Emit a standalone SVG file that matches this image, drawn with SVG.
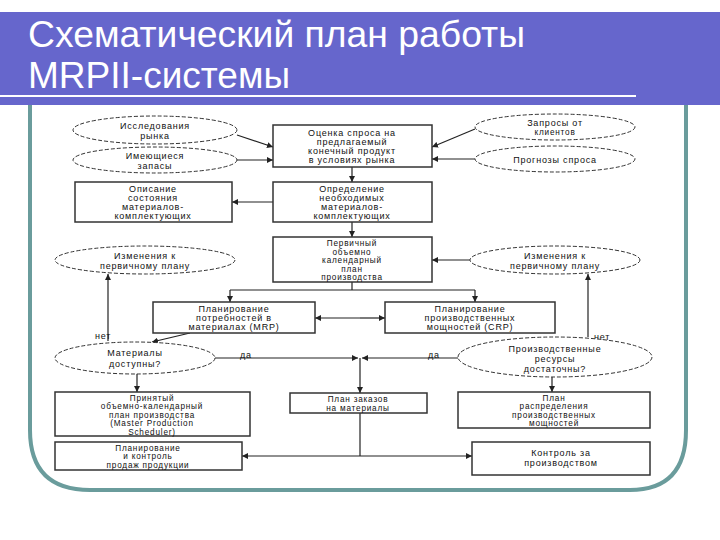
<svg xmlns="http://www.w3.org/2000/svg" width="720" height="540" viewBox="0 0 720 540">
<defs>
<marker id="a" viewBox="0 0 6 6" refX="6" refY="3" markerWidth="5" markerHeight="5" orient="auto"><path d="M0,0L6,3L0,6z" fill="#222"/></marker>
<style>
.b{fill:#fff;stroke:#333;stroke-width:1.5}
.e{fill:#fff;stroke:#333;stroke-width:1;stroke-dasharray:4 2}
.t{font-family:"Liberation Sans",Arial,sans-serif;font-size:9px;fill:#111;text-anchor:middle;letter-spacing:0.8px}
.s{font-size:8.2px}
.l{font-family:"Liberation Sans",Arial,sans-serif;font-size:9px;fill:#111;letter-spacing:0.8px}
.c{fill:none;stroke:#222;stroke-width:1.2}
.h{font-family:"Liberation Sans",Arial,sans-serif;font-size:36px;fill:#fff}
</style>
</defs>
<rect width="720" height="540" fill="#fff"/>
<rect x="0" y="12" width="720" height="93" fill="#6666cc"/>
<line x1="0" y1="96" x2="636" y2="96" stroke="#fff" stroke-width="2"/>
<text class="h" x="28" y="47" textLength="497" lengthAdjust="spacingAndGlyphs">Схематический план работы</text>
<text class="h" x="28" y="88" textLength="262" lengthAdjust="spacingAndGlyphs">MRPII-системы</text>
<path d="M30,105 V430 Q30,490 90,490 H630 Q686,490 686,430 V105" fill="none" stroke="#6a9c9c" stroke-width="4"/>

<g id="connectors">
<path class="c" d="M237,135 L273,147" marker-end="url(#a)"/>
<path class="c" d="M237,160 H273" marker-end="url(#a)"/>
<path class="c" d="M475,129 L432,147" marker-end="url(#a)"/>
<path class="c" d="M475,159 H432" marker-end="url(#a)"/>
<path class="c" d="M352,167 V182" marker-end="url(#a)"/>
<path class="c" d="M273,202 H232" marker-end="url(#a)"/>
<path class="c" d="M352,222 V237" marker-end="url(#a)"/>
<path class="c" d="M470,260 H432" marker-end="url(#a)"/>
<path class="c" d="M352,282 V290 M230,290 H475"/>
<path class="c" d="M230,290 V302" marker-end="url(#a)"/>
<path class="c" d="M475,290 V302" marker-end="url(#a)"/>
<path class="c" d="M360,318 H315" marker-end="url(#a)"/>
<path class="c" d="M360,318 H385" marker-end="url(#a)"/>
<path class="c" d="M190,333 L152,342" marker-end="url(#a)"/>
<path class="c" d="M108,341 V274" marker-end="url(#a)"/>
<path class="c" d="M588,337 V274" marker-end="url(#a)"/>
<path class="c" d="M215,358 H358" marker-end="url(#a)"/>
<path class="c" d="M458,358 H362" marker-end="url(#a)"/>
<path class="c" d="M360,358 V393" marker-end="url(#a)"/>
<path class="c" d="M137,374 V392" marker-end="url(#a)"/>
<path class="c" d="M552,377 V392" marker-end="url(#a)"/>
<path class="c" d="M360,413 V456"/>
<path class="c" d="M360,456 H242" marker-end="url(#a)"/>
<path class="c" d="M360,456 H472" marker-end="url(#a)"/>
<text class="l" x="95" y="339">нет</text>
<text class="l" x="240" y="358">да</text>
<text class="l" x="428" y="358">да</text>
<text class="l" x="594" y="340">нет</text>
</g>

<g id="n1"><ellipse class="e" cx="155" cy="130" rx="82" ry="14"/><text class="t" x="155" y="129">Исследования</text><text class="t" x="155" y="139">рынка</text></g>
<g id="n2"><ellipse class="e" cx="155" cy="160" rx="82" ry="13"/><text class="t" x="155" y="159">Имеющиеся</text><text class="t" x="155" y="169">запасы</text></g>
<g id="n3"><rect class="b" x="273" y="125" width="159" height="42"/><text class="t" x="352" y="136">Оценка спроса на</text><text class="t" x="352" y="145">предлагаемый</text><text class="t" x="352" y="154">конечный продукт</text><text class="t" x="352" y="163">в условиях рынка</text></g>
<g id="n4"><ellipse class="e" cx="555" cy="127" rx="80" ry="13"/><text class="t" x="555" y="126">Запросы от</text><text class="t s" x="555" y="135">клиентов</text></g>
<g id="n5"><ellipse class="e" cx="555" cy="159" rx="80" ry="13"/><text class="t" x="555" y="163">Прогнозы спроса</text></g>
<g id="n6"><rect class="b" x="75" y="182" width="157" height="40"/><text class="t" x="153" y="192">Описание</text><text class="t" x="153" y="201">состояния</text><text class="t" x="153" y="210">материалов-</text><text class="t" x="153" y="219">комплектующих</text></g>
<g id="n7"><rect class="b" x="273" y="182" width="159" height="40"/><text class="t" x="352" y="192">Определение</text><text class="t" x="352" y="201">необходимых</text><text class="t" x="352" y="210">материалов-</text><text class="t" x="352" y="219">комплектующих</text></g>
<g id="n8"><rect class="b" x="273" y="237" width="159" height="45"/><text class="t s" x="352" y="246">Первичный</text><text class="t s" x="352" y="254.5">объемно</text><text class="t s" x="352" y="263">календарный</text><text class="t s" x="352" y="271.5">план</text><text class="t s" x="352" y="280">производства</text></g>
<g id="n9"><ellipse class="e" cx="145" cy="260" rx="90" ry="14"/><text class="t" x="145" y="259">Изменения к</text><text class="t" x="145" y="269">первичному плану</text></g>
<g id="n10"><ellipse class="e" cx="555" cy="260" rx="85" ry="14"/><text class="t" x="555" y="259">Изменения к</text><text class="t" x="555" y="269">первичному плану</text></g>
<g id="n11"><rect class="b" x="153" y="302" width="162" height="31"/><text class="t" x="234" y="312">Планирование</text><text class="t" x="234" y="321">потребностей в</text><text class="t" x="234" y="330">материалах (MRP)</text></g>
<g id="n12"><rect class="b" x="385" y="302" width="170" height="31"/><text class="t" x="470" y="312">Планирование</text><text class="t" x="470" y="321">производственных</text><text class="t" x="470" y="330">мощностей (CRP)</text></g>
<g id="n13"><ellipse class="e" cx="135" cy="358" rx="80" ry="16"/><text class="t" x="135" y="356">Материалы</text><text class="t" x="135" y="367">доступны?</text></g>
<g id="n14"><ellipse class="e" cx="555" cy="357" rx="97" ry="20"/><text class="t" x="555" y="352">Производственные</text><text class="t" x="555" y="362">ресурсы</text><text class="t" x="555" y="372">достаточны?</text></g>
<g id="n15"><rect class="b" x="55" y="392" width="195" height="44"/><text class="t s" x="152" y="400.5">Принятый</text><text class="t s" x="152" y="409">объемно-календарный</text><text class="t s" x="152" y="417.5">план производства</text><text class="t s" x="152" y="426">(Master Production</text><text class="t s" x="152" y="434.5">Scheduler)</text></g>
<g id="n16"><rect class="b" x="290" y="393" width="137" height="20"/><text class="t s" x="358" y="401.5">План заказов</text><text class="t s" x="358" y="410.5">на материалы</text></g>
<g id="n17"><rect class="b" x="458" y="392" width="192" height="36"/><text class="t s" x="554" y="400.5">План</text><text class="t s" x="554" y="409">распределения</text><text class="t s" x="554" y="417.5">производственных</text><text class="t s" x="554" y="426">мощностей</text></g>
<g id="n18"><rect class="b" x="55" y="442" width="187" height="28"/><text class="t s" x="148" y="450.5">Планирование</text><text class="t s" x="148" y="459">и контроль</text><text class="t s" x="148" y="467.5">продаж продукции</text></g>
<g id="n19"><rect class="b" x="472" y="442" width="178" height="33"/><text class="t" x="561" y="456">Контроль за</text><text class="t" x="561" y="466">производством</text></g>
</svg>
